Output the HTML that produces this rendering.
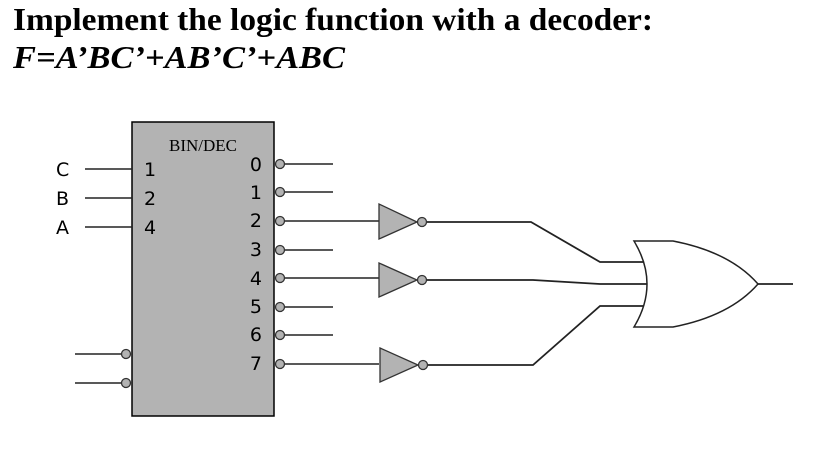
<!DOCTYPE html>
<html><head><meta charset="utf-8"><style>html,body{margin:0;padding:0;background:#fff}svg{display:block}</style></head>
<body>
<svg width="823" height="457" viewBox="0 0 823 457" xmlns="http://www.w3.org/2000/svg">
<text x="13" y="30" font-family="Liberation Serif, serif" font-weight="bold" font-size="32" textLength="640" lengthAdjust="spacingAndGlyphs">Implement the logic function with a decoder:</text>
<text x="13" y="68" font-family="Liberation Serif, serif" font-weight="bold" font-style="italic" font-size="32" textLength="332" lengthAdjust="spacingAndGlyphs">F=A’BC’+AB’C’+ABC</text>

<rect x="132" y="122" width="142" height="294" fill="#b3b3b3" stroke="#000" stroke-width="1.5"/>
<text x="203" y="151" font-family="Liberation Serif, serif" font-size="17" text-anchor="middle">BIN/DEC</text>

<g stroke="#222" stroke-width="1.5" fill="none">
<line x1="85" y1="169" x2="132" y2="169"/>
<line x1="85" y1="198" x2="132" y2="198"/>
<line x1="85" y1="227" x2="132" y2="227"/>
<line x1="75" y1="354" x2="122" y2="354"/>
<line x1="75" y1="383" x2="122" y2="383"/>
<line x1="284" y1="164" x2="333" y2="164"/>
<line x1="284" y1="192" x2="333" y2="192"/>
<line x1="284" y1="221" x2="379" y2="221"/>
<line x1="284" y1="250" x2="333" y2="250"/>
<line x1="284" y1="278" x2="379" y2="278"/>
<line x1="284" y1="307" x2="333" y2="307"/>
<line x1="284" y1="335" x2="333" y2="335"/>
<line x1="284" y1="364" x2="379" y2="364"/>
<polyline points="426,222 531,222 600,262 648,262" stroke-width="1.8"/>
<polyline points="426,280 533,280 600,284 652,284" stroke-width="1.8"/>
<polyline points="426,365 533,365 600,306 648,306" stroke-width="1.8"/>
<line x1="758" y1="284" x2="793" y2="284" stroke-width="1.8"/>
</g>

<g fill="#b3b3b3" stroke="#333" stroke-width="1.3">
<circle cx="126" cy="354" r="4.5"/><circle cx="126" cy="383" r="4.5"/>
<circle cx="280" cy="164" r="4.5"/><circle cx="280" cy="192" r="4.5"/>
<circle cx="280" cy="221" r="4.5"/><circle cx="280" cy="250" r="4.5"/>
<circle cx="280" cy="278" r="4.5"/><circle cx="280" cy="307" r="4.5"/>
<circle cx="280" cy="335" r="4.5"/><circle cx="280" cy="364" r="4.5"/>
<polygon points="379,204 379,239 417,222"/><circle cx="422" cy="222" r="4.5"/>
<polygon points="379,263 379,297 417,280"/><circle cx="422" cy="280" r="4.5"/>
<polygon points="380,348 380,382 418,365"/><circle cx="423" cy="365" r="4.5"/>
</g>

<path d="M634,241 L673,241 Q730,252 758,284 Q730,316 673,327 L634,327 Q660,284 634,241 Z" fill="#fff" stroke="#222" stroke-width="1.5"/>

<g font-family="DejaVu Sans, sans-serif" font-size="19" fill="#000">
<text x="56" y="176">C</text><text x="56" y="205">B</text><text x="56" y="234">A</text>
<text x="144" y="176">1</text><text x="144" y="205">2</text><text x="144" y="234">4</text>
<g text-anchor="end">
<text x="262" y="171">0</text><text x="262" y="199">1</text><text x="262" y="227">2</text>
<text x="262" y="256">3</text><text x="262" y="285">4</text><text x="262" y="313">5</text>
<text x="262" y="341">6</text><text x="262" y="370">7</text>
</g></g>
</svg>
</body></html>
